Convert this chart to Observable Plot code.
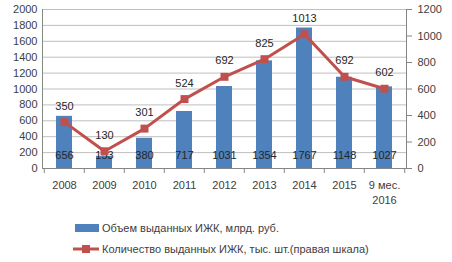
<!DOCTYPE html>
<html><head><meta charset="utf-8">
<script src="https://cdn.jsdelivr.net/npm/d3@7"></script>
<script src="https://cdn.jsdelivr.net/npm/@observablehq/plot@0.6"></script>
<style>
body{margin:0;background:#fff;font-family:"Liberation Sans",Arial,sans-serif;}
#legend{position:absolute;left:0;top:0;width:452px;font-size:11px;color:#404040;}
.item{position:absolute;left:73px;height:14px;display:flex;align-items:center;}
.item span{margin-left:3px;white-space:nowrap;}
</style></head><body>
<div id="chart"></div>
<div id="legend">
  <div class="item" style="top:221px"><svg width="26" height="10"><rect x="2" y="1" width="24" height="8" fill="#4F81BD"/></svg><span>Объем выданных ИЖК, млрд. руб.</span></div>
  <div class="item" style="top:242px"><svg width="26" height="10"><line x1="0" x2="26" y1="5" y2="5" stroke="#C0504D" stroke-width="3"/><rect x="9" y="1" width="8" height="8" fill="#C0504D"/></svg><span>Количество выданных ИЖК, тыс. шт.(правая шкала)</span></div>
</div>
<script>
const categories = ["2008","2009","2010","2011","2012","2013","2014","2015","9 мес.\n2016"];
const volume = [656,153,380,717,1031,1354,1767,1148,1027];
const count = [350,130,301,524,692,825,1013,692,602];
const leftTicks = [0,200,400,600,800,1000,1200,1400,1600,1800,2000];
const rightTicks = [0,200,400,600,800,1000,1200];

const leftMax = 2000, rightMax = 1200;
const k = leftMax / rightMax;
const data = categories.map((c,i)=>({cat:c, vol:volume[i], cnt:count[i]}));

const W = 452, H = 210, mL = 42, mR = 46, mT = 9, mB = 42;
const step = (W - mL - mR) / categories.length;

const plot = Plot.plot({
  width: W, height: H,
  marginLeft: mL, marginRight: mR, marginTop: mT, marginBottom: mB,
  style: {fontFamily: "Liberation Sans, Arial, sans-serif", fontSize: "11px", color: "#404040", background: "#fff"},
  x: {domain: categories, paddingInner: 0.6, paddingOuter: 0.3, axis: null, label: null},
  y: {domain: [0, leftMax], axis: null, label: null},
  marks: [
    Plot.gridY(leftTicks, {stroke: "#bfbfbf", strokeOpacity: 1}),
    Plot.axisY(leftTicks, {anchor: "left", label: null, tickSize: 0, tickPadding: 5, fill: "#404040", tickFormat: d => String(d)}),
    Plot.axisY(rightTicks.map(v => v * k), {anchor: "right", label: null, tickSize: 5, tickPadding: 6, stroke: "#868686", fill: "#404040", tickFormat: d => String(Math.round(d / k))}),
    Plot.axisX({anchor: "bottom", label: null, tickSize: 0, tickPadding: 10, lineHeight: 1.35, fill: "#404040"}),
    Plot.barY(data, {x: "cat", y: "vol", fill: "#4F81BD"}),
    Plot.frame({anchor: "left", stroke: "#868686"}),
    Plot.frame({anchor: "right", stroke: "#868686"}),
    Plot.frame({anchor: "bottom", stroke: "#868686"}),
    Plot.ruleX(data, {x: "cat", y1: 0, y2: 0, insetBottom: -5, dx: -step/2, stroke: "#868686"}),
    Plot.ruleX(data.slice(-1), {x: "cat", y1: 0, y2: 0, insetBottom: -5, dx: step/2, stroke: "#868686"}),
    Plot.text(data, {x: "cat", y: 0, text: d => String(d.vol), dy: -13, fill: "#262626"}),
    Plot.line(data, {x: "cat", y: d => d.cnt * k, stroke: "#C0504D", strokeWidth: 3}),
    Plot.dot(data, {x: "cat", y: d => d.cnt * k, symbol: "square", r: 4.5, fill: "#C0504D", stroke: "none"}),
    Plot.text(data, {x: "cat", y: d => d.cnt * k, text: d => String(d.cnt), dy: -16, fill: "#262626"})
  ]
});
document.getElementById("chart").appendChild(plot);
</script>
</body></html>
